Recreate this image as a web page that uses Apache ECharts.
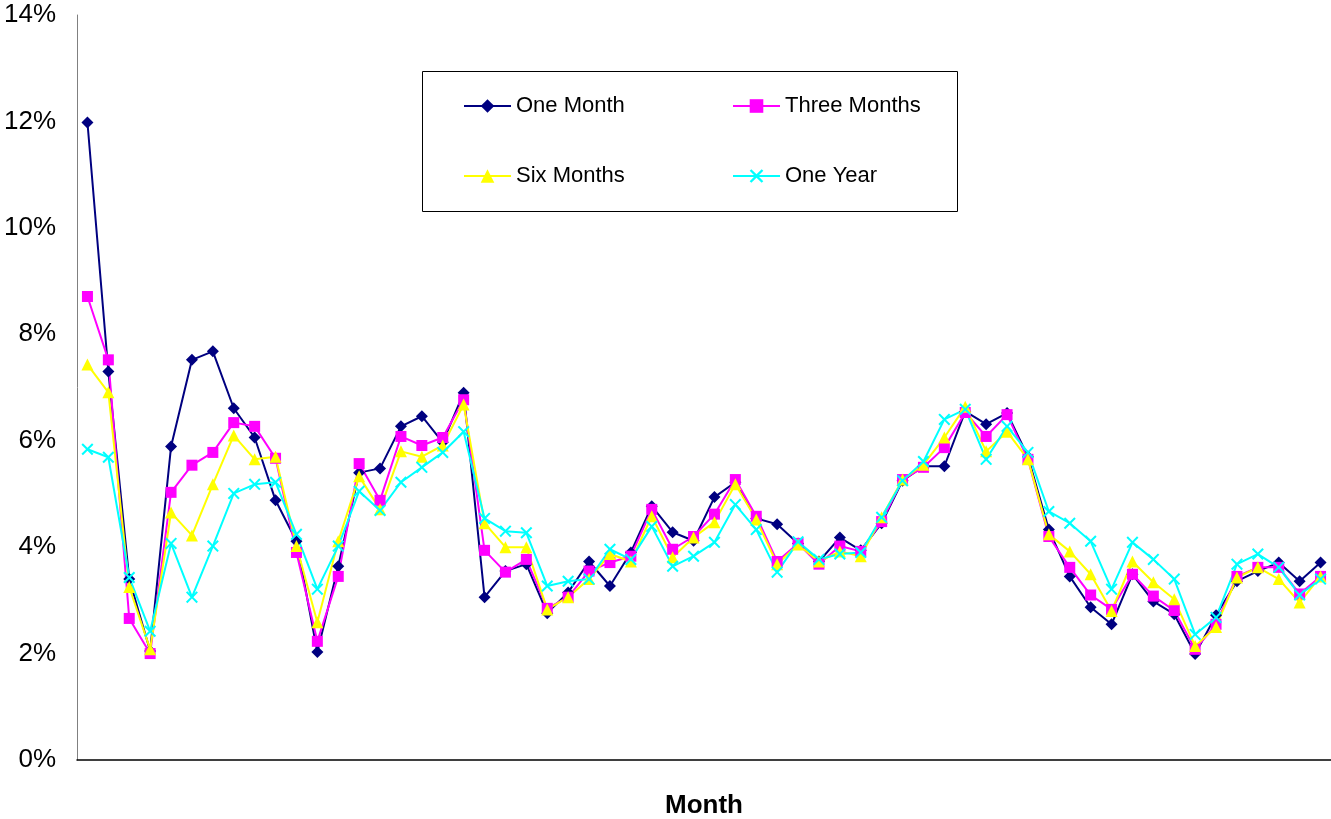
<!DOCTYPE html>
<html>
<head>
<meta charset="utf-8">
<script src="https://cdn.jsdelivr.net/npm/echarts@6/dist/echarts.min.js"></script>
<style>
html,body{margin:0;padding:0;background:#fff;overflow:hidden;}
#chart{width:1331px;height:819px;}
</style>
</head>
<body>
<div id="chart"></div>
<script>
// ---- data (percent) ----
const categories = ['M1','M2','M3','M4','M5','M6','M7','M8','M9','M10','M11','M12','M13','M14','M15','M16','M17','M18','M19','M20','M21','M22','M23','M24','M25','M26','M27','M28','M29','M30','M31','M32','M33','M34','M35','M36','M37','M38','M39','M40','M41','M42','M43','M44','M45','M46','M47','M48','M49','M50','M51','M52','M53','M54','M55','M56','M57','M58','M59','M60'];

const oneMonth = [11.98,7.30,3.40,2.05,5.89,7.52,7.68,6.61,6.06,4.88,4.11,2.03,3.64,5.40,5.48,6.27,6.46,5.97,6.90,3.06,3.55,3.68,2.76,3.15,3.73,3.27,3.90,4.77,4.28,4.12,4.94,5.22,4.54,4.43,4.07,3.73,4.18,3.94,4.45,5.25,5.52,5.52,6.55,6.31,6.52,5.70,4.33,3.45,2.87,2.55,3.49,2.98,2.74,1.99,2.72,3.36,3.55,3.71,3.36,3.71];

const threeMonths = [8.71,7.52,2.66,2.00,5.03,5.54,5.78,6.34,6.27,5.67,3.90,2.23,3.45,5.57,4.88,6.08,5.91,6.06,6.77,3.94,3.53,3.77,2.85,3.06,3.55,3.71,3.83,4.71,3.96,4.20,4.62,5.27,4.58,3.73,4.07,3.68,4.02,3.92,4.48,5.27,5.50,5.87,6.53,6.08,6.49,5.65,4.20,3.62,3.10,2.83,3.49,3.08,2.81,2.08,2.55,3.45,3.62,3.62,3.12,3.45];

const sixMonths = [7.43,6.91,3.25,2.08,4.65,4.22,5.18,6.10,5.65,5.70,4.02,2.59,4.11,5.33,4.71,5.80,5.70,5.91,6.68,4.45,4.00,4.00,2.83,3.06,3.40,3.87,3.73,4.58,3.81,4.18,4.47,5.18,4.52,3.68,4.05,3.73,3.92,3.83,4.56,5.27,5.55,6.06,6.64,5.80,6.17,5.65,4.24,3.92,3.49,2.80,3.73,3.34,3.02,2.14,2.50,3.43,3.62,3.40,2.96,3.45];

const oneYear = [5.84,5.69,3.43,2.42,4.07,3.06,4.02,5.01,5.18,5.22,4.24,3.21,4.02,5.05,4.69,5.22,5.50,5.78,6.17,4.54,4.30,4.27,3.27,3.36,3.40,3.96,3.77,4.39,3.64,3.83,4.09,4.80,4.33,3.53,4.10,3.77,3.87,3.90,4.56,5.25,5.61,6.40,6.59,5.65,6.27,5.78,4.67,4.45,4.11,3.21,4.09,3.77,3.40,2.36,2.68,3.68,3.87,3.62,3.10,3.40];

const seriesNames = ['One Month','Three Months','Six Months','One Year'];
const yTicks = {min: 0, max: 14, interval: 2};

// ---- styling ----
const FONT = 'Liberation Sans, Arial, sans-serif';
const xSymbol = 'path://M0,1.2 L1.2,0 L5,3.8 L8.8,0 L10,1.2 L6.2,5 L10,8.8 L8.8,10 L5,6.2 L1.2,10 L0,8.8 L3.8,5 Z';
const styles = [
  {color:'#000080', symbol:'diamond', size:12},
  {color:'#FF00FF', symbol:'rect', size:11},
  {color:'#FFFF00', symbol:'triangle', size:12},
  {color:'#00FFFF', symbol:xSymbol, size:12}
];
const values = [oneMonth, threeMonths, sixMonths, oneYear];

const series = seriesNames.map((name, i) => ({
  name: name,
  type: 'line',
  data: values[i],
  symbol: styles[i].symbol,
  symbolSize: styles[i].size,
  showAllSymbol: true,
  lineStyle: {color: styles[i].color, width: 2},
  itemStyle: {color: styles[i].color, opacity: 1},
  emphasis: {disabled: true},
  animation: false
}));

const legendPos = [
  {left: 463, top: 95},
  {left: 732, top: 95},
  {left: 463, top: 165},
  {left: 732, top: 165}
];
const legends = seriesNames.map((name, i) => ({
  data: [name],
  left: legendPos[i].left,
  top: legendPos[i].top,
  orient: 'horizontal',
  padding: 0,
  itemWidth: 47,
  itemHeight: 17,
  itemGap: 5,
  selectedMode: false,
  textStyle: {fontSize: 22, fontFamily: FONT, color: '#000', padding: [0,0,0,0]}
}));

const chart = echarts.init(document.getElementById('chart'), null, {renderer: 'canvas', width: 1331, height: 819});
chart.setOption({
  backgroundColor: '#fff',
  animation: false,
  grid: {left: 77, width: 1254, top: 15, height: 745, containLabel: false, outerBoundsMode: 'none'},
  legend: legends,
  graphic: [{
    type: 'rect',
    shape: {x: 422.5, y: 71.5, width: 535, height: 140},
    style: {fill: 'transparent', stroke: '#000', lineWidth: 1},
    z: 100
  }],
  xAxis: {
    type: 'category',
    data: categories,
    boundaryGap: true,
    axisLine: {show: true, lineStyle: {color: '#000', width: 1.5}},
    axisTick: {show: false},
    axisLabel: {show: false},
    splitLine: {show: false},
    name: 'Month',
    nameLocation: 'middle',
    nameGap: 33,
    nameTextStyle: {fontSize: 26, fontWeight: 'bold', fontFamily: FONT, color: '#000'}
  },
  yAxis: {
    type: 'value',
    min: yTicks.min,
    max: yTicks.max,
    interval: yTicks.interval,
    axisLine: {show: true, lineStyle: {color: '#808080', width: 1}},
    axisTick: {show: false},
    splitLine: {show: false},
    axisLabel: {formatter: '{value}%', fontSize: 26, fontFamily: FONT, color: '#000', margin: 21}
  },
  series: series
});
</script>
</body>
</html>
